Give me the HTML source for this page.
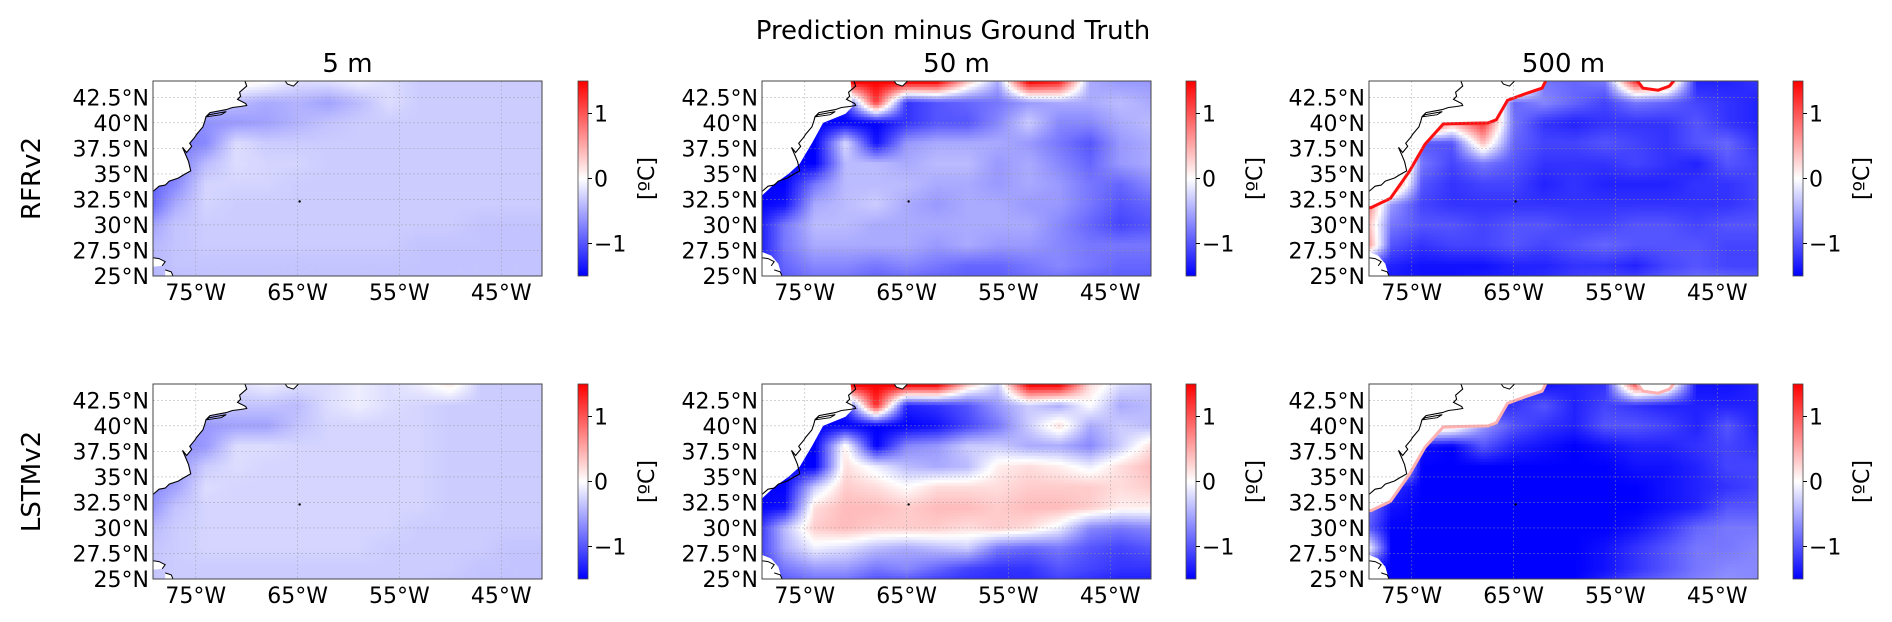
<!DOCTYPE html>
<html><head><meta charset="utf-8">
<style>
html,body{margin:0;padding:0;background:#fff;}
#fig{position:relative;width:1892px;height:622px;overflow:hidden;background:#fff;}
canvas{position:absolute;}
svg{position:absolute;left:0;top:0;}
text{font-family:"DejaVu Sans","Liberation Sans",sans-serif;fill:#000;}
</style></head>
<body>
<div id="fig">
<svg id="ov" width="1892" height="622"></svg>
</div>
<script>
// ---- data arrays ----
const lonCols=[-80,-77,-74,-71,-68,-65,-62,-59,-56,-53,-50,-47,-44,-41];
const latRows=[44,42,40,38,36,34,32,30,28,26,24];
const latTicks=[25,27.5,30,32.5,35,37.5,40,42.5];
const latTickLabels=["25°N","27.5°N","30°N","32.5°N","35°N","37.5°N","40°N","42.5°N"];
const lonTicks=[-75,-65,-55,-45];
const lonTickLabels=["75°W","65°W","55°W","45°W"];
const cbarTicks=[-1,0,1];
const cbarTickLabels=["\u22121","0","1"];
const depthTitles=["5 m","50 m","500 m"];
const modelNames=["RFRv2","LSTMv2"];

const fieldRfr5=[
[-0.3,-0.3,-0.2,0.1,0.0,-0.2,-0.2,-0.1,-0.2,-0.3,-0.3,-0.3,-0.3,-0.3],
[-0.4,-0.4,-0.3,-0.4,-0.5,-0.45,-0.55,-0.4,-0.2,-0.3,-0.3,-0.3,-0.3,-0.3],
[-0.7,-0.7,-0.65,-0.6,-0.55,-0.45,-0.35,-0.3,-0.3,-0.3,-0.3,-0.3,-0.3,-0.3],
[-0.8,-0.8,-0.7,-0.2,-0.3,-0.3,-0.3,-0.3,-0.3,-0.3,-0.3,-0.3,-0.3,-0.3],
[-0.9,-0.8,-0.4,-0.2,-0.25,-0.25,-0.3,-0.3,-0.3,-0.3,-0.3,-0.3,-0.3,-0.3],
[-1.0,-0.7,-0.25,-0.25,-0.25,-0.3,-0.3,-0.3,-0.3,-0.3,-0.3,-0.3,-0.3,-0.3],
[-1.0,-0.5,-0.25,-0.3,-0.3,-0.3,-0.3,-0.3,-0.3,-0.3,-0.3,-0.3,-0.3,-0.3],
[-0.6,-0.35,-0.3,-0.3,-0.3,-0.3,-0.3,-0.3,-0.3,-0.3,-0.3,-0.35,-0.35,-0.35],
[-0.45,-0.35,-0.3,-0.3,-0.3,-0.3,-0.3,-0.3,-0.3,-0.35,-0.35,-0.35,-0.35,-0.35],
[-0.45,-0.35,-0.35,-0.35,-0.35,-0.35,-0.35,-0.35,-0.35,-0.35,-0.35,-0.35,-0.35,-0.35],
[-0.45,-0.4,-0.35,-0.35,-0.35,-0.35,-0.35,-0.35,-0.35,-0.35,-0.35,-0.35,-0.35,-0.35]];
const fieldLstm5=[
[-0.2,-0.2,-0.2,-0.2,-0.1,-0.2,-0.2,-0.1,-0.2,-0.1,0.1,-0.3,-0.3,-0.3],
[-0.3,-0.3,-0.3,-0.35,-0.35,-0.4,-0.2,-0.1,-0.2,-0.25,-0.3,-0.3,-0.3,-0.3],
[-0.6,-0.6,-0.6,-0.55,-0.55,-0.35,-0.25,-0.25,-0.25,-0.25,-0.3,-0.3,-0.3,-0.3],
[-0.7,-0.7,-0.6,-0.2,-0.2,-0.25,-0.25,-0.25,-0.25,-0.25,-0.3,-0.3,-0.3,-0.3],
[-0.7,-0.65,-0.3,-0.2,-0.25,-0.25,-0.25,-0.25,-0.25,-0.25,-0.3,-0.3,-0.3,-0.3],
[-0.75,-0.55,-0.2,-0.25,-0.25,-0.25,-0.25,-0.25,-0.25,-0.25,-0.3,-0.3,-0.3,-0.3],
[-0.7,-0.35,-0.25,-0.25,-0.25,-0.25,-0.25,-0.25,-0.25,-0.25,-0.3,-0.3,-0.3,-0.3],
[-0.45,-0.3,-0.25,-0.25,-0.25,-0.25,-0.25,-0.25,-0.25,-0.3,-0.3,-0.3,-0.3,-0.3],
[-0.35,-0.3,-0.25,-0.25,-0.25,-0.25,-0.25,-0.25,-0.3,-0.3,-0.3,-0.3,-0.35,-0.35],
[-0.35,-0.3,-0.3,-0.3,-0.3,-0.3,-0.3,-0.3,-0.3,-0.3,-0.3,-0.35,-0.35,-0.35],
[-0.35,-0.3,-0.3,-0.3,-0.3,-0.3,-0.3,-0.3,-0.3,-0.3,-0.35,-0.35,-0.35,-0.35]];
const fieldRfr50=[
[-1.5,-1.5,-1.5,1.5,1.5,1.5,1.5,0.3,-0.5,1.5,1.3,-0.5,-0.6,-0.6],
[-1.5,-1.5,-1.5,-1.2,1.2,-1.2,-1.0,-0.9,-0.8,-0.6,-0.5,-0.5,-0.4,-0.5],
[-1.5,-1.5,-1.5,-1.5,-1.5,-1.2,-1.0,-1.0,-0.7,-0.3,-0.7,-0.7,-0.5,-0.4],
[-1.5,-1.5,-1.5,-0.2,-1.4,-0.6,-0.5,-0.5,-0.5,-0.6,-0.8,-1.0,-0.6,-0.5],
[-1.5,-1.5,-1.5,-0.4,-0.4,-0.5,-0.4,-0.4,-0.6,-0.5,-0.7,-0.9,-0.6,-0.5],
[-1.5,-1.5,-0.8,-0.4,-0.4,-0.4,-0.5,-0.5,-0.6,-0.5,-0.6,-0.8,-0.9,-0.7],
[-1.5,-1.4,-0.5,-0.4,-0.3,-0.5,-0.6,-0.5,-0.5,-0.6,-0.6,-0.8,-1.0,-0.9],
[-1.5,-0.8,-0.4,-0.4,-0.5,-0.5,-0.5,-0.5,-0.5,-0.5,-0.7,-0.9,-1.1,-1.0],
[-1.5,-0.8,-0.5,-0.5,-0.5,-0.5,-0.6,-0.5,-0.6,-0.6,-0.7,-0.8,-0.8,-0.8],
[-1.4,-0.9,-0.7,-0.7,-0.8,-0.7,-0.8,-0.9,-0.9,-0.8,-0.7,-0.8,-0.9,-0.9],
[-1.4,-1.0,-0.9,-0.9,-1.0,-1.0,-1.0,-1.0,-1.0,-0.9,-0.9,-1.0,-1.0,-1.0]];
const fieldLstm50=[
[-1.5,-1.5,-1.5,1.5,1.5,1.5,1.5,0.3,-0.3,1.5,1.5,0.2,-0.2,-0.3],
[-1.5,-1.5,-1.5,-1.3,1.3,-1.3,-1.2,-1.0,-0.6,-0.3,-0.5,0.0,-0.5,-0.4],
[-1.5,-1.5,-1.5,-1.5,-1.5,-1.5,-1.4,-1.1,-0.8,-0.3,0.2,-0.5,-0.3,-0.4],
[-1.5,-1.5,-1.5,0.1,-1.5,-0.7,-0.6,-0.3,-0.3,-0.5,-0.5,-0.7,-0.3,0.2],
[-1.5,-1.5,-1.5,0.2,-0.1,-0.4,-0.5,-0.4,0.1,0.2,0.1,-0.1,0.2,0.4],
[-1.5,-1.5,-0.3,0.3,0.2,0.0,0.2,0.2,0.2,0.3,0.3,0.3,0.2,0.3],
[-1.5,-1.4,0.2,0.4,0.4,0.3,0.4,0.4,0.3,0.4,0.4,0.3,0.1,0.1],
[-1.4,-0.4,0.3,0.4,0.3,0.3,0.3,0.2,0.3,0.2,-0.1,-0.7,-0.8,-0.7],
[-1.3,-0.5,-0.1,-0.2,-0.4,-0.5,-0.4,-0.3,-0.8,-0.9,-0.8,-1.0,-1.1,-1.0],
[-1.3,-0.8,-0.6,-0.6,-0.8,-0.7,-0.9,-1.1,-1.2,-1.2,-1.0,-1.1,-1.2,-1.2],
[-1.3,-1.1,-1.0,-1.0,-1.2,-1.2,-1.3,-1.3,-1.3,-1.3,-1.2,-1.3,-1.4,-1.4]];
const fieldRfr500=[
[1.5,1.5,1.5,1.5,1.5,1.5,-0.8,-0.9,-0.8,1.2,0.8,-1.3,-1.3,-1.2],
[1.5,1.5,1.5,1.5,1.5,-0.9,-0.7,-0.9,-1.1,-0.8,-0.9,-1.1,-1.2,-1.3],
[1.5,1.5,1.5,0.5,1.2,-0.8,-1.2,-1.3,-1.2,-1.2,-1.2,-1.0,-1.2,-1.3],
[1.5,1.5,-1.0,-1.0,0.4,-0.9,-1.1,-1.1,-1.0,-1.1,-1.2,-1.0,-0.9,-1.2],
[1.5,1.5,-0.8,-1.1,-0.8,-1.0,-1.2,-1.2,-1.2,-1.1,-1.2,-1.3,-1.0,-1.1],
[1.5,1.0,-1.0,-1.2,-1.1,-1.1,-1.3,-1.2,-1.3,-1.3,-1.3,-1.2,-1.2,-1.1],
[1.2,-0.6,-1.1,-1.2,-1.2,-1.2,-1.2,-1.2,-1.2,-1.2,-1.2,-1.2,-1.2,-1.1],
[0.8,-0.8,-1.0,-1.0,-1.1,-1.0,-1.0,-1.1,-1.1,-1.0,-1.0,-1.1,-1.0,-1.0],
[1.2,-1.0,-1.2,-1.1,-1.1,-1.0,-1.1,-1.0,-0.9,-1.0,-1.0,-1.0,-1.1,-1.1],
[-1.2,-1.3,-1.4,-1.4,-1.4,-1.3,-1.3,-1.2,-1.2,-1.3,-1.1,-1.0,-1.1,-1.1],
[-1.3,-1.4,-1.4,-1.4,-1.3,-1.3,-1.2,-1.1,-1.0,-1.0,-0.9,-0.8,-0.8,-0.9]];
const fieldLstm500=[
[1.5,1.5,1.5,1.5,1.5,-1.3,-1.4,-1.3,-1.2,1.0,0.5,-1.4,-1.4,-1.3],
[1.5,1.5,1.5,1.5,-1.3,-1.2,-1.0,-1.3,-1.1,-1.2,-1.3,-1.3,-1.3,-1.3],
[1.5,1.5,0.5,0.3,-0.6,-1.0,-1.2,-1.3,-1.0,-1.0,-1.1,-1.3,-1.0,-1.3],
[1.5,1.5,-1.4,-1.5,-1.0,-1.3,-1.4,-1.5,-1.4,-1.3,-1.3,-1.2,-1.1,-1.2],
[1.5,0.5,-1.5,-1.5,-1.5,-1.5,-1.5,-1.5,-1.5,-1.4,-1.4,-1.3,-1.1,-1.1],
[1.0,-1.2,-1.5,-1.5,-1.5,-1.5,-1.5,-1.5,-1.5,-1.5,-1.4,-1.3,-1.2,-1.1],
[-0.6,-1.4,-1.5,-1.5,-1.5,-1.5,-1.5,-1.5,-1.5,-1.5,-1.4,-1.3,-1.0,-1.0],
[-0.8,-1.5,-1.5,-1.5,-1.5,-1.5,-1.5,-1.5,-1.5,-1.4,-1.2,-0.9,-0.8,-0.8],
[0.5,-1.5,-1.5,-1.5,-1.5,-1.5,-1.5,-1.5,-1.4,-1.2,-1.0,-0.8,-0.8,-0.7],
[-1.4,-1.5,-1.5,-1.5,-1.5,-1.5,-1.5,-1.5,-1.4,-1.2,-1.0,-0.8,-0.7,-0.7],
[-1.5,-1.5,-1.5,-1.5,-1.5,-1.5,-1.5,-1.5,-1.2,-0.9,-0.8,-0.7,-0.6,-0.7]];

// geography (lon, lat)
const coastMain=[[-70.2,44.2],[-70.0,43.6],[-70.7,43.0],[-70.6,42.6],[-70.9,42.3],[-70.1,41.9],[-70.0,41.7],[-70.6,41.6],[-71.4,41.5],[-72.0,41.3],[-73.6,41.0],[-74.0,40.6],[-74.1,40.2],[-74.3,39.6],[-74.9,38.9],[-75.1,38.6],[-75.6,38.0],[-75.4,37.7],[-75.9,37.1],[-76.3,37.6],[-76.0,36.9],[-75.7,36.2],[-75.5,35.3],[-76.2,34.9],[-76.7,34.6],[-77.6,34.3],[-78.0,33.9],[-78.6,33.8],[-79.3,33.2]];
const longIsland=[[-72.0,41.1],[-73.7,40.8],[-73.9,40.6],[-72.5,40.8],[-72.0,41.1]];
const novaScotia=[[-66.3,44.2],[-66.0,43.8],[-65.4,43.6],[-65.0,44.0],[-64.8,44.2]];
const floridaBits=[[-79.3,26.8],[-78.6,26.7],[-78.0,26.4],[-78.3,26.0],[-79.3,25.9]];
const bahamaBits=[[-78.0,25.6],[-77.4,25.4],[-77.2,24.9],[-78.0,24.9]];
const shelf50=[[-70.5,44.2],[-70.3,41.6],[-71.0,40.9],[-73.2,40.0],[-74.3,38.0],[-75.5,36.0],[-76.6,35.0],[-78.0,34.0],[-79.3,32.8]];
const shelf500=[[-61.8,44.2],[-62.2,43.4],[-64.0,42.8],[-65.6,42.2],[-66.7,40.3],[-67.5,40.0],[-71.9,39.9],[-73.7,37.9],[-75.2,35.3],[-77.1,32.6],[-79.0,31.7],[-79.3,31.7]];
const grandBank=[[-52.9,44.2],[-52.3,43.4],[-50.8,43.2],[-49.7,43.6],[-49.2,44.2]];

// ---- layout ----
const colX=[153,762,1369], rowY=[81,384], PW=389, PH=195;
const cbX=[578,1186,1793], CBW=10;
const LON0=-79.2, LON1=-41.0, LAT0=25.0, LAT1=44.1, VMIN=-1.5, VMAX=1.5;
const panels=[
 {r:0,c:0,f:fieldRfr5,mask:null},{r:0,c:1,f:fieldRfr50,mask:'50'},{r:0,c:2,f:fieldRfr500,mask:'500',edge:'#ff1010'},
 {r:1,c:0,f:fieldLstm5,mask:null},{r:1,c:1,f:fieldLstm50,mask:'50'},{r:1,c:2,f:fieldLstm500,mask:'500',edge:'#ffb0b0'}];
const NS='http://www.w3.org/2000/svg';
const svg=document.getElementById('ov');
function el(tag,attrs,parent){const e=document.createElementNS(NS,tag);for(const k in attrs)e.setAttribute(k,attrs[k]);(parent||svg).appendChild(e);return e;}
function bwr(v){let t=(v-VMIN)/(VMAX-VMIN);t=Math.max(0,Math.min(1,t));if(t<0.5){const a=Math.round(510*t);return [a,a,255];}const a=Math.round(510*(1-t));return [255,a,a];}
function sample(f,lon,lat){
 let fx=(lon-lonCols[0])/(lonCols[1]-lonCols[0]);let fy=(latRows[0]-lat)/(latRows[0]-latRows[1]);
 fx=Math.max(0,Math.min(lonCols.length-1.001,fx));fy=Math.max(0,Math.min(latRows.length-1.001,fy));
 const i=Math.floor(fx),j=Math.floor(fy),u=fx-i,w=fy-j;
 return f[j][i]*(1-u)*(1-w)+f[j][i+1]*u*(1-w)+f[j+1][i]*(1-u)*w+f[j+1][i+1]*u*w;}
const fig=document.getElementById('fig');

panels.forEach((p,k)=>{
 const x0=colX[p.c],y0=rowY[p.r];
 const cv=document.createElement('canvas');cv.width=PW;cv.height=PH;
 cv.style.left=x0+'px';cv.style.top=y0+'px';
 
 
 fig.insertBefore(cv,svg);
 const ctx=cv.getContext('2d');const img=ctx.createImageData(PW,PH);
 for(let py=0;py<PH;py++){for(let px=0;px<PW;px++){
  const bx=Math.floor(px/3)*3+1.5,by=Math.floor(py/3)*3+1.5;
  const lon=LON0+bx/PW*(LON1-LON0),lat=LAT1-by/PH*(LAT1-LAT0);
  const c=bwr(sample(p.f,lon,lat));const o=(py*PW+px)*4;
  img.data[o]=c[0];img.data[o+1]=c[1];img.data[o+2]=c[2];img.data[o+3]=255;}}
 ctx.putImageData(img,0,0);

 const P=(lon,lat)=>[x0+(lon-LON0)/(LON1-LON0)*PW,y0+(LAT1-lat)/(LAT1-LAT0)*PH];
 const pts=a=>a.map(q=>P(q[0],q[1]).map(v=>v.toFixed(1)).join(',')).join(' ');
 const cid='clip'+k;
 const cp=el('clipPath',{id:cid});el('rect',{x:x0,y:y0,width:PW,height:PH},cp);
 const g=el('g',{'clip-path':'url(#'+cid+')'});
 
 
 const tl=[LON0-1,LAT1+1];
 let maskLine=coastMain;
 if(p.mask==='50')maskLine=shelf50;
 if(p.mask==='500')maskLine=shelf500;
 const mp=el('polygon',{points:pts(maskLine.concat([[LON0-1,maskLine[maskLine.length-1][1]],tl])),fill:'#fff'},g);
 
 
 el('polygon',{points:pts(novaScotia),fill:'#fff'},g);
 const fb=p.mask?[[-79.3,27.4],[-78.3,27.0],[-77.6,26.2],[-77.3,25.2],[-77.0,24.0],[-79.3,24.0]]:floridaBits;
 el('polygon',{points:pts(fb),fill:'#fff'},g);
 el('polygon',{points:pts(bahamaBits),fill:'#fff'},g);
 if(p.mask==='500'){
  el('polygon',{points:pts(grandBank),fill:'#fff'},g);
  el('polyline',{points:pts(shelf500),fill:'none',stroke:p.edge,'stroke-width':3},g);
  el('polyline',{points:pts(grandBank),fill:'none',stroke:p.edge,'stroke-width':3},g);
 }
 latTicks.forEach(t=>{const a=P(LON0,t),b=P(LON1,t);el('line',{x1:a[0],y1:a[1],x2:b[0],y2:b[1],stroke:'#999','stroke-width':0.6,'stroke-dasharray':'2,2',opacity:0.7},g);});
 lonTicks.forEach(t=>{const a=P(t,LAT1),b=P(t,LAT0);el('line',{x1:a[0],y1:a[1],x2:b[0],y2:b[1],stroke:'#999','stroke-width':0.6,'stroke-dasharray':'2,2',opacity:0.7},g);});
 const cl=el('polyline',{points:pts(coastMain),fill:'none',stroke:'#000','stroke-width':1.1},g);
 
 
 el('polyline',{points:pts(longIsland),fill:'none',stroke:'#000','stroke-width':1},g);
 el('polyline',{points:pts(novaScotia),fill:'none',stroke:'#000','stroke-width':1},g);
 el('polyline',{points:pts(floridaBits.slice(0,4)),fill:'none',stroke:'#000','stroke-width':1},g);
 el('polyline',{points:pts(bahamaBits),fill:'none',stroke:'#000','stroke-width':1},g);
 const bm=P(-64.8,32.3);el('circle',{cx:bm[0],cy:bm[1],r:1.2,fill:'#000'},g);
 const fr=el('rect',{x:x0,y:y0,width:PW,height:PH,fill:'none',stroke:'#444','stroke-width':1});
 
 
 latTicks.forEach((t,i)=>{const a=P(LON0,t);const tx=el('text',{x:x0-4,y:a[1]+8,'text-anchor':'end','font-size':22});tx.textContent=latTickLabels[i];
  
  });
 lonTicks.forEach((t,i)=>{const a=P(t,LAT0);const tx=el('text',{x:a[0],y:y0+PH+24,'text-anchor':'middle','font-size':22});tx.textContent=lonTickLabels[i];
  
  });
 const cx=cbX[p.c];
 const gid='grad'+k;const lg=el('linearGradient',{id:gid,x1:0,y1:1,x2:0,y2:0});
 [0,0.5,1].forEach(o=>{const c=bwr(VMIN+o*(VMAX-VMIN));el('stop',{offset:o,'stop-color':'rgb('+c.join(',')+')'},lg);});
 const cb=el('rect',{x:cx,y:y0,width:CBW,height:PH,fill:'url(#'+gid+')',stroke:'#444','stroke-width':0.8});
 
 
 cbarTicks.forEach((t,i)=>{const yy=y0+(VMAX-t)/(VMAX-VMIN)*PH;
  el('line',{x1:cx+CBW,y1:yy,x2:cx+CBW+4,y2:yy,stroke:'#000','stroke-width':1});
  const tx=el('text',{x:cx+CBW+6,y:yy+8,'font-size':22});tx.textContent=cbarTickLabels[i];
  
  });
 const lb=el('text',{x:0,y:0,'font-size':22,'text-anchor':'middle',transform:'translate('+(cx+76)+','+(y0+PH/2)+') rotate(-90)'});lb.textContent='[ºC]';
 
 
});
const st=el('text',{x:953,y:39,'text-anchor':'middle','font-size':26});st.textContent='Prediction minus Ground Truth';


depthTitles.forEach((d,i)=>{const t=el('text',{x:colX[i]+PW/2,y:72,'text-anchor':'middle','font-size':26});t.textContent=d;
 
 });
modelNames.forEach((m,i)=>{const t=el('text',{x:0,y:0,'text-anchor':'middle','font-size':26,transform:'translate(40,'+(rowY[i]+PH/2)+') rotate(-90)'});t.textContent=m;
 
 });
</script>
</body></html>
